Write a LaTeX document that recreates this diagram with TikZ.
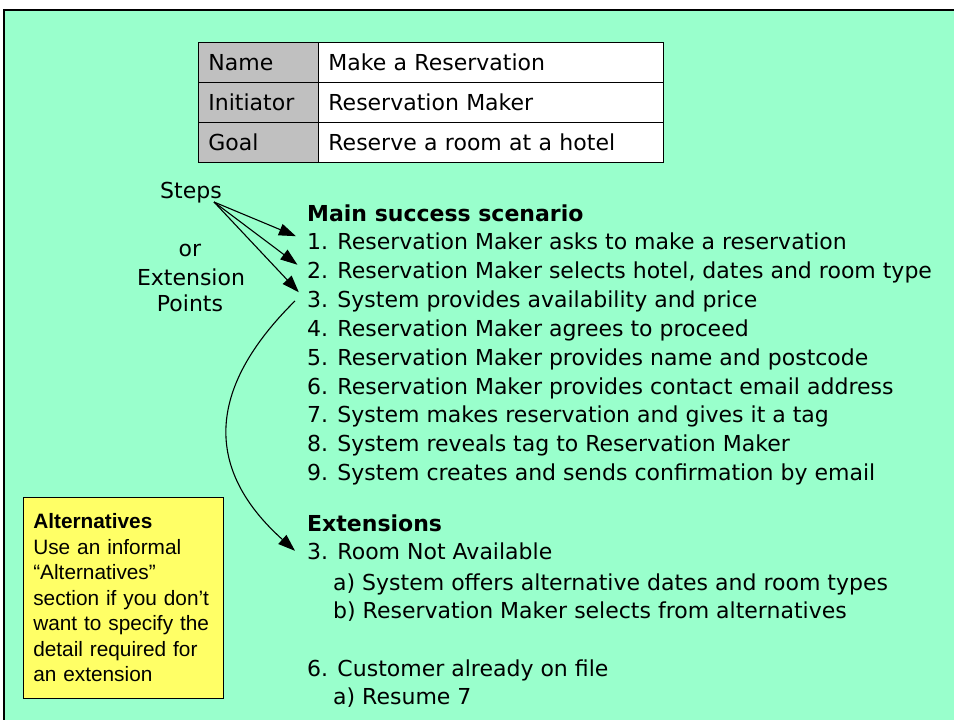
\documentclass[tikz,border=0pt]{standalone}
\usepackage{fontspec}
\setmainfont{DejaVu Sans}
\newfontfamily\notefont{Liberation Sans}
\usetikzlibrary{arrows.meta}
\definecolor{slidegreen}{HTML}{99FFCC}
\definecolor{noteyellow}{HTML}{FFFF66}
\definecolor{cellgray}{HTML}{C0C0C0}

\begin{document}
\begin{tikzpicture}[x=1pt,y=-1pt,
  body/.style={font=\fontsize{22}{26}\selectfont, inner sep=0pt, anchor=base west},
  head/.style={body, font=\fontsize{22}{26}\selectfont\bfseries},
  side/.style={font=\fontsize{22}{26}\selectfont, inner sep=0pt, anchor=base},
  cell/.style={draw=black, line width=0.8pt, font=\fontsize{22}{26}\selectfont,
    minimum height=40pt, inner xsep=10pt, align=left, anchor=north west},
  keycell/.style={cell, fill=cellgray, text width=100pt},
  valcell/.style={cell, fill=white, text width=325pt},
  note/.style={draw=black, line width=0.6pt, fill=noteyellow, anchor=north west,
    minimum width=200pt, minimum height=201pt, text width=180pt, inner xsep=10pt,
    align=left, font=\notefont\fontsize{20.8}{25.5}\selectfont},
  link/.style={line width=1.1pt, -{Triangle[length=17pt,width=12pt]}}
]
\useasboundingbox (0,0) rectangle (954,720);
\fill[white] (0,0) rectangle (954,720);
\fill[slidegreen] (4,10) rectangle (954,720);
\draw[line width=2pt] (4,720) -- (4,10) -- (954,10);

% use case summary table
\node[keycell] (k1) at (198,42) {Name};
\node[valcell] (v1) at (318,42) {Make a Reservation};
\node[keycell] (k2) at (198,82) {Initiator};
\node[valcell] (v2) at (318,82) {Reservation Maker};
\node[keycell] (k3) at (198,122) {Goal};
\node[valcell] (v3) at (318,122) {Reserve a room at a hotel};

% side labels
\node[side] (steps) at (191,198) {Steps};
\node[side] (or) at (190,256) {or};
\node[side] (extn) at (191,285) {Extension};
\node[side] (pts) at (190,311) {Points};
\coordinate (fan) at (214,202);

% main success scenario
\node[head] (main) at (307,221) {Main success scenario};
\node[body] (s1) at (307,249) {1. Reservation Maker asks to make a reservation};
\node[body] (s2) at (307,278) {2. Reservation Maker selects hotel, dates and room type};
\node[body] (s3) at (307,307) {3. System provides availability and price};
\node[body] (s4) at (307,336) {4. Reservation Maker agrees to proceed};
\node[body] (s5) at (307,365) {5. Reservation Maker provides name and postcode};
\node[body] (s6) at (307,394) {6. Reservation Maker provides contact email address};
\node[body] (s7) at (307,422) {7. System makes reservation and gives it a tag};
\node[body] (s8) at (307,451) {8. System reveals tag to Reservation Maker};
\node[body] (s9) at (307,480) {9. System creates and sends confirmation by email};

% extensions
\node[head] (ext) at (307,531) {Extensions};
\node[body] (e3) at (307,559) {3. Room Not Available};
\node[body] (e3a) at (333,590) {a) System offers alternative dates and room types};
\node[body] (e3b) at (333,618) {b) Reservation Maker selects from alternatives};
\node[body] (e6) at (307,676) {6. Customer already on file};
\node[body] (e6a) at (333,704) {a) Resume 7};

% note box
\node[note] (alt) at (23,497) {\textbf{Alternatives}\\Use an informal\\\textquotedblleft Alternatives\textquotedblright\\section if you don\textquoteright t\\want to specify the\\detail required for\\an extension};

% connectors
\draw[link, shorten >=12pt] (fan) -- (s1.west);
\draw[link, shorten >=12pt] (fan) -- (s2.west);
\draw[link, shorten >=12pt] (fan) -- (s3.west);
\draw[link] ([xshift=-12pt]s3.west) .. controls (205,390) and (205,470) .. ([xshift=-12pt]e3.west);
\end{tikzpicture}
\end{document}
